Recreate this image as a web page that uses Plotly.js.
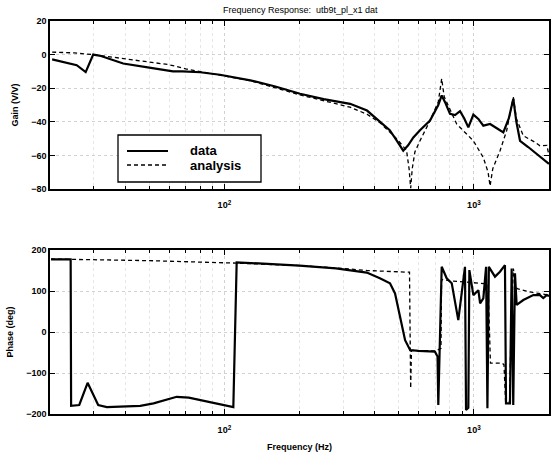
<!DOCTYPE html>
<html>
<head>
<meta charset="utf-8">
<script src="https://cdn.plot.ly/plotly-3.0.1.min.js"></script>
<style>html,body{margin:0;padding:0;background:#fff;}#chart{width:551px;height:458px;}</style>
</head>
<body>
<div id="chart"></div>
<script>
// ---- Gain, measured data (solid) ----
var gainDataFreq = [20.4, 25.6, 27.8, 29.8, 32, 39.3, 50, 62.2, 68, 80, 96, 127, 160, 201, 250, 319, 373, 420, 460, 490, 521, 545, 572, 608, 667, 720, 743, 770, 802, 840, 880, 915, 950, 995, 1042, 1091, 1161, 1240, 1312, 1380, 1439, 1480, 1531, 1650, 1784, 1958, 2000];
var gainDataVal  = [-2.8, -6.3, -10.4, 0, -0.8, -5.3, -7.8, -10, -10, -10.5, -12, -15.3, -19, -23.3, -26.5, -29.3, -33.3, -40, -45, -51, -57.2, -54, -49.3, -45, -39.3, -30, -24.3, -29, -35.3, -36, -33.7, -38, -43.3, -35.7, -38.3, -42.3, -41.3, -44, -46.3, -38, -26.3, -40, -51.3, -55, -59.2, -64.2, -65];

// ---- Gain, analysis (dashed) ----
var gainAnaFreq = [20.4, 25, 29.8, 40, 60, 70, 96, 127, 201, 319, 373, 420, 490, 537, 550, 558, 566, 580, 608, 667, 720, 743, 760, 802, 853, 995, 1091, 1140, 1161, 1190, 1273, 1353, 1439, 1480, 1578, 1750, 1840, 1960, 2000];
var gainAnaVal  = [1.5, 1, 0, -2.5, -6, -8.5, -12, -15.5, -24, -31.3, -35.5, -40.5, -50, -57, -68, -79.5, -68, -58, -51.3, -39.3, -28, -14.3, -25, -33, -41.3, -51.3, -61.3, -70, -78.2, -68, -57.2, -45.3, -25.3, -38, -48.3, -52, -54.3, -54, -60];

// ---- Phase, measured data (solid) ----
var phaseDataFreq = [20.2, 24.2, 24.3, 26.2, 28.3, 31.2, 33.8, 40, 46, 52, 58, 64.4, 72, 85, 100, 108.6, 112, 150, 200, 280, 372, 420, 461, 483, 506, 530, 555, 600, 698, 715, 720, 743, 778, 815, 866, 921, 930, 950, 959, 995, 1042, 1059, 1091, 1119, 1133, 1148, 1215, 1272, 1332, 1345, 1395, 1417, 1438, 1461, 1484, 1578, 1730, 1840, 1897, 1958, 2000];
var phaseDataVal  = [177, 177, -180, -178, -124, -178, -183, -182, -180, -174, -166, -158, -160, -170, -179, -183, 170, 166, 162, 155, 145, 131, 119, 94, 37, -20, -44, -46, -48, -60, -178, 159, 131, 119, 29, 159, -190, -185, 151, 90, 102, 70, 82, 159, -186, 159, 135, 147, 163, -174, -174, 155, -178, 143, 66, 78, 90, 90, 83, 90, 88];

// ---- Phase, analysis (dashed) ----
var phaseAnaFreq = [20.2, 50, 112, 200, 300, 372, 540, 552, 555, 558, 562, 600, 700, 738, 742, 800, 1000, 1100, 1140, 1155, 1165, 1300, 1320, 1340, 1390, 1410, 1440, 1465, 1500, 1700, 2000];
var phaseAnaVal  = [178, 174, 168, 162, 155, 150, 146, 146, 0, -137, -45, -45, -46, -40, 128, 125, 120, 118, 115, -30, -76, -76, -80, -170, -170, 20, 155, 110, 105, 97, 90];

var legendNames = ['data', 'analysis'];
var xTickVals = [100, 1000];
var xTickText = ['10<sup>2</sup>', '10<sup>3</sup>'];
var xMinorVals = [30, 40, 50, 60, 70, 80, 90, 200, 300, 400, 500, 600, 700, 800, 900];
var gainTicks = [20, 0, -20, -40, -60, -80];
var phaseTicks = [200, 100, 0, -100, -200];

var FONT = 'Liberation Sans, Arial, sans-serif';
var SOLID = {color: '#000', width: 2.2};
var DASH = {color: '#000', width: 1.3, dash: '4px,3px'};

var traces = [
  {x: gainDataFreq, y: gainDataVal, name: legendNames[0], mode: 'lines', line: SOLID, xaxis: 'x', yaxis: 'y'},
  {x: gainAnaFreq, y: gainAnaVal, name: legendNames[1], mode: 'lines', line: DASH, xaxis: 'x', yaxis: 'y'},
  {x: phaseDataFreq, y: phaseDataVal, name: legendNames[0], mode: 'lines', line: SOLID, xaxis: 'x2', yaxis: 'y2'},
  {x: phaseAnaFreq, y: phaseAnaVal, name: legendNames[1], mode: 'lines', line: DASH, xaxis: 'x2', yaxis: 'y2'}
];

function xax(anchor) {
  return {
    type: 'log', range: [Math.log10(20), Math.log10(2000)], anchor: anchor, domain: [0, 1],
    tickmode: 'array', tickvals: xTickVals, ticktext: xTickText,
    ticks: 'inside', ticklen: 5, tickcolor: '#000', ticklabelstandoff: 7,
    showline: true, linecolor: '#000', linewidth: 1.6, mirror: 'ticks',
    showgrid: true, gridcolor: '#d2d2d2', griddash: 'dot', gridwidth: 1,
    minor: {tickmode: 'array', tickvals: xMinorVals, ticks: 'inside', ticklen: 3, tickcolor: '#000', showgrid: true, gridcolor: '#e6e6e6', griddash: 'dot', gridwidth: 1},
    zeroline: false,
    tickfont: {family: FONT, size: 9, color: '#000', weight: 'bold'}
  };
}
function yax(domain, range, ticks, title) {
  return {
    domain: domain, range: range, tickmode: 'array', tickvals: ticks,
    ticks: 'inside', ticklen: 5, tickcolor: '#000',
    showline: true, linecolor: '#000', linewidth: 1.6, mirror: 'ticks',
    showgrid: true, gridcolor: '#d2d2d2', griddash: 'dot', zeroline: false,
    tickfont: {family: FONT, size: 9, color: '#000', weight: 'bold'},
    title: {text: title, standoff: 11, font: {family: FONT, size: 9, color: '#000', weight: 'bold'}}
  };
}

// legend drawn as a boxed key in the upper panel (pixel -> paper helpers)
function px(x) { return (x - 50) / 499; }
function py(y) { return (414 - y) / 393; }

var layout = {
  width: 551, height: 458,
  margin: {l: 50, r: 2, t: 21, b: 44},
  paper_bgcolor: '#fff', plot_bgcolor: '#fff',
  showlegend: false,
  title: {text: 'Frequency Response:  utb9t_pl_x1 dat', x: 0.545, xanchor: 'center', y: 0.985, yanchor: 'top',
          font: {family: FONT, size: 9, color: '#000'}},
  xaxis: xax('y'),
  yaxis: yax([0.5725, 1], [-80, 20], gainTicks, 'Gain (V/V)'),
  xaxis2: Object.assign(xax('y2'), {title: {text: 'Frequency (Hz)', standoff: 9, font: {family: FONT, size: 9, color: '#000', weight: 'bold'}}}),
  yaxis2: yax([0, 0.4173], [-200, 200], phaseTicks, 'Phase (deg)'),
  shapes: [
    {type: 'rect', xref: 'paper', yref: 'paper', x0: px(118), x1: px(261), y0: py(182), y1: py(135),
     line: {color: '#000', width: 1.3}, fillcolor: '#fff', layer: 'above'},
    {type: 'line', xref: 'paper', yref: 'paper', x0: px(127), x1: px(168), y0: py(151), y1: py(151), line: SOLID, layer: 'above'},
    {type: 'line', xref: 'paper', yref: 'paper', x0: px(127), x1: px(168), y0: py(165), y1: py(165), line: DASH, layer: 'above'}
  ],
  annotations: [
    {text: legendNames[0], xref: 'paper', yref: 'paper', x: px(188), y: py(151), xanchor: 'left', yanchor: 'middle', showarrow: false,
     font: {family: FONT, size: 13, color: '#000', weight: 'bold'}},
    {text: legendNames[1], xref: 'paper', yref: 'paper', x: px(188), y: py(165), xanchor: 'left', yanchor: 'middle', showarrow: false,
     font: {family: FONT, size: 13, color: '#000', weight: 'bold'}}
  ]
};

Plotly.newPlot('chart', traces, layout, {displayModeBar: false, staticPlot: true});
</script>
</body>
</html>
